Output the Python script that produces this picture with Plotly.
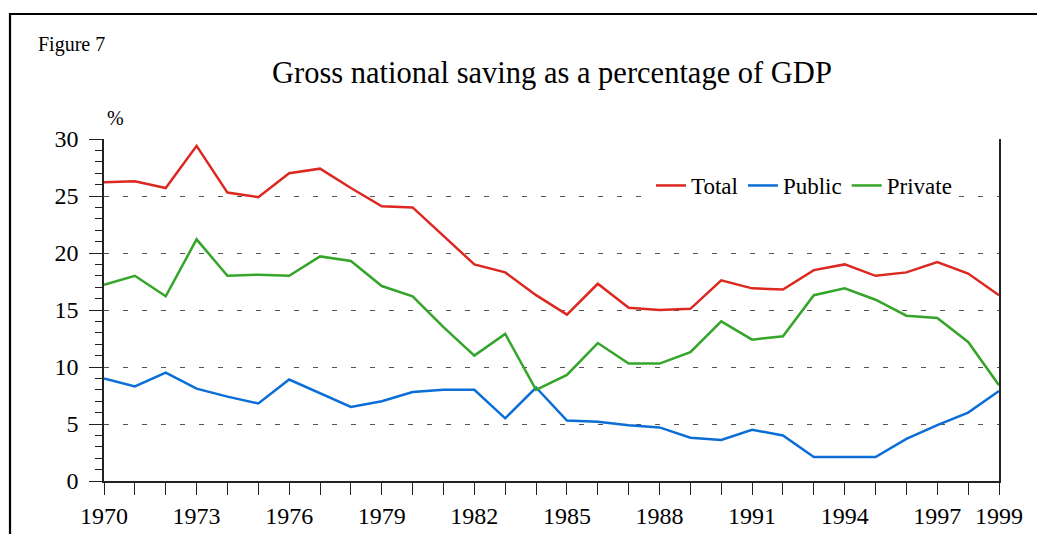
import plotly.graph_objects as go

years = list(range(1970, 2000))
total = [26.2, 26.3, 25.7, 29.4, 25.3, 24.9, 27.0, 27.4, 25.7, 24.1,
         24.0, 21.5, 19.0, 18.3, 16.3, 14.6, 17.3, 15.2, 15.0, 15.1,
         17.6, 16.9, 16.8, 18.5, 19.0, 18.0, 18.3, 19.2, 18.2, 16.3]
public = [9.0, 8.3, 9.5, 8.1, 7.4, 6.8, 8.9, 7.7, 6.5, 7.0,
          7.8, 8.0, 8.0, 5.5, 8.2, 5.3, 5.2, 4.9, 4.7, 3.8,
          3.6, 4.5, 4.0, 2.1, 2.1, 2.1, 3.7, 4.9, 6.0, 7.9]
private = [17.2, 18.0, 16.2, 21.2, 18.0, 18.1, 18.0, 19.7, 19.3, 17.1,
           16.2, 13.5, 11.0, 12.9, 8.0, 9.3, 12.1, 10.3, 10.3, 11.3,
           14.0, 12.4, 12.7, 16.3, 16.9, 15.9, 14.5, 14.3, 12.2, 8.4]
label_years = [1970, 1973, 1976, 1979, 1982, 1985, 1988, 1991, 1994, 1997, 1999]
y_ticks = [0, 5, 10, 15, 20, 25, 30]

FONT = "Liberation Serif, Times New Roman, serif"
W, H = 1037, 534
L, R, T, B = 104, 999, 139, 481

fig = go.Figure()
series = [("Total", total, "#dc2820"), ("Public", public, "#0a6ed6"), ("Private", private, "#34a52a")]
for name, vals, col in series:
    fig.add_trace(go.Scatter(x=years, y=vals, mode="lines", name=name,
                             line=dict(color=col, width=2.5)))

def px_to_paper_x(px):
    return (px - L) / (R - L)

def px_to_paper_y(py):
    return (B - py) / (B - T)

fig.update_layout(
    width=W, height=H,
    margin=dict(l=L, r=W - R, t=T, b=H - B, pad=0, autoexpand=False),
    paper_bgcolor="white", plot_bgcolor="white",
    font=dict(family=FONT, color="black", size=24),
    showlegend=True,
    legend=dict(orientation="h", x=px_to_paper_x(651), y=px_to_paper_y(164),
                xanchor="left", yanchor="top", bgcolor="white",
                font=dict(family=FONT, size=23), itemwidth=30,
                tracegroupgap=0),
    xaxis=dict(range=[1970, 1999], tickmode="array", tickvals=years,
               ticktext=[str(y) if y in label_years else "" for y in years],
               ticks="outside", ticklen=12, tickwidth=1.3, tickcolor="#222",
               showline=True, linecolor="#222", linewidth=1.5, mirror=False,
               showgrid=False, zeroline=False, automargin=False,
               tickfont=dict(family=FONT, size=24)),
    yaxis=dict(range=[0, 30], tickmode="array", tickvals=y_ticks,
               ticks="outside", ticklen=13, tickwidth=1.3, tickcolor="#222",
               minor=dict(dtick=1, ticks="outside", ticklen=7, tickwidth=1.2,
                          tickcolor="#222", showgrid=False),
               showline=True, linecolor="#222", linewidth=1.5, mirror=True,
               showgrid=True, gridcolor="#555", gridwidth=1.2,
               griddash="5px,14px", zeroline=False, automargin=False,
               ticklabelstandoff=6,
               tickfont=dict(family=FONT, size=24)),
)

fig.add_annotation(text="Gross national saving as a percentage of GDP",
                   xref="paper", yref="paper", x=0.5, y=px_to_paper_y(73),
                   xanchor="center", yanchor="middle", showarrow=False,
                   font=dict(family=FONT, size=30.5))
fig.add_annotation(text="Figure 7", xref="paper", yref="paper",
                   x=px_to_paper_x(36), y=px_to_paper_y(44),
                   xanchor="left", yanchor="middle", showarrow=False,
                   font=dict(family=FONT, size=20))
fig.add_annotation(text="%", xref="paper", yref="paper",
                   x=px_to_paper_x(105), y=px_to_paper_y(118),
                   xanchor="left", yanchor="middle", showarrow=False,
                   font=dict(family=FONT, size=20))

fig.add_shape(type="rect", xref="paper", yref="paper",
              x0=px_to_paper_x(10), x1=px_to_paper_x(1045),
              y0=px_to_paper_y(545), y1=px_to_paper_y(14),
              line=dict(color="black", width=2.2), fillcolor="rgba(0,0,0,0)",
              layer="above")

fig.write_html("out.html", config={"displayModeBar": False},
               post_script="document.body.style.margin='0';")
